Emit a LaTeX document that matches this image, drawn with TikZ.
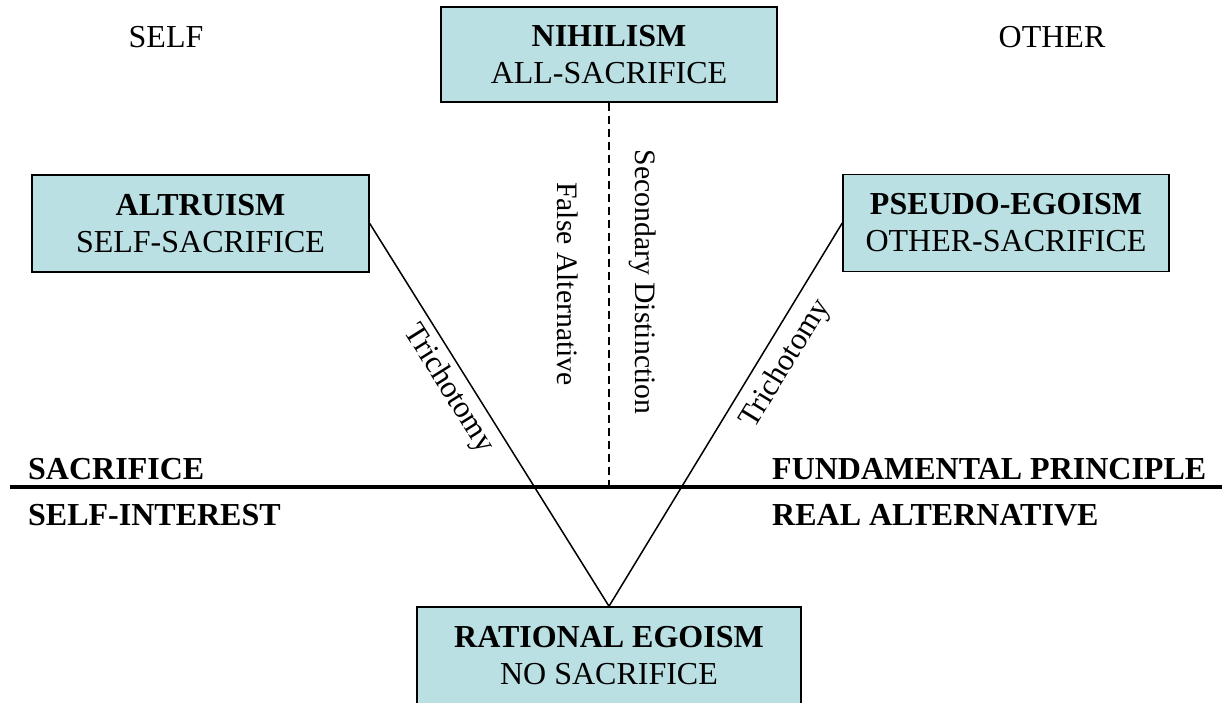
\documentclass[tikz,border=0pt]{standalone}
\usepackage{fontspec}
\setmainfont{Liberation Serif}
\definecolor{boxfill}{HTML}{BBE0E3}
\tikzset{
  box/.style={draw=black, line width=1.5pt, fill=boxfill, align=center, inner sep=0pt,
    font=\fontsize{32}{37}\selectfont},
  side/.style={font=\fontsize{32}{37}\selectfont\bfseries, anchor=base west, inner sep=0pt},
  corner/.style={font=\fontsize{32}{37}\selectfont, anchor=base, inner sep=0pt},
  vlabel/.style={font=\fontsize{29.7}{34}\selectfont, rotate=-90, inner sep=0pt},
  tlabel/.style={font=\fontsize{31}{34}\selectfont, inner sep=0pt},
  conn/.style={line width=1.5pt},
}
\begin{document}
\begin{tikzpicture}[x=1pt,y=-1pt]
\clip (0,0) rectangle (1222,702);
% boxes
\node[box, minimum width=336pt, minimum height=95pt] (nih) at (609,54.5) {\textbf{NIHILISM}\\ALL-SACRIFICE};
\node[box, minimum width=337pt, minimum height=97pt] (alt) at (200.5,223.5) {\textbf{ALTRUISM}\\SELF-SACRIFICE};
\node[box, minimum width=326pt, minimum height=97pt] (pse) at (1006,223) {\textbf{PSEUDO-EGOISM}\\OTHER-SACRIFICE};
\node[box, minimum width=384pt, minimum height=97pt] (rat) at (609,655.5) {\textbf{RATIONAL EGOISM}\\NO SACRIFICE};
% corner labels
\node[corner] (self) at (166,47) {SELF};
\node[corner] (other) at (1052,47) {OTHER};
% divider
\coordinate (divL) at (10,487);
\coordinate (divR) at (1222,487);
\coordinate (dashEnd) at (609,487);
\draw[line width=4pt] (divL) -- (divR);
% side labels
\node[side] (sac) at (28,479) {SACRIFICE};
\node[side] (selfint) at (28,525) {SELF-INTEREST};
\node[side] (fund) at (772,479) {FUNDAMENTAL PRINCIPLE};
\node[side] (real) at (772,525) {REAL ALTERNATIVE};
% connectors
\draw[line width=1.3pt, dash pattern=on 8pt off 5pt] (nih.south) -- (dashEnd);
\draw[conn] (alt.east) -- (rat.north);
\draw[conn] (rat.north) -- (pse.west);
% rotated labels
\node[vlabel] (sec) at (643,282) {Secondary Distinction};
\node[vlabel] (fal) at (568,284) {False Alternative};
\node[tlabel, rotate=-57.9] (tri1) at (448.5,389) {Trichotomy};
\node[tlabel, rotate=58.5] (tri2) at (786,364) {Trichotomy};
\end{tikzpicture}
\end{document}
